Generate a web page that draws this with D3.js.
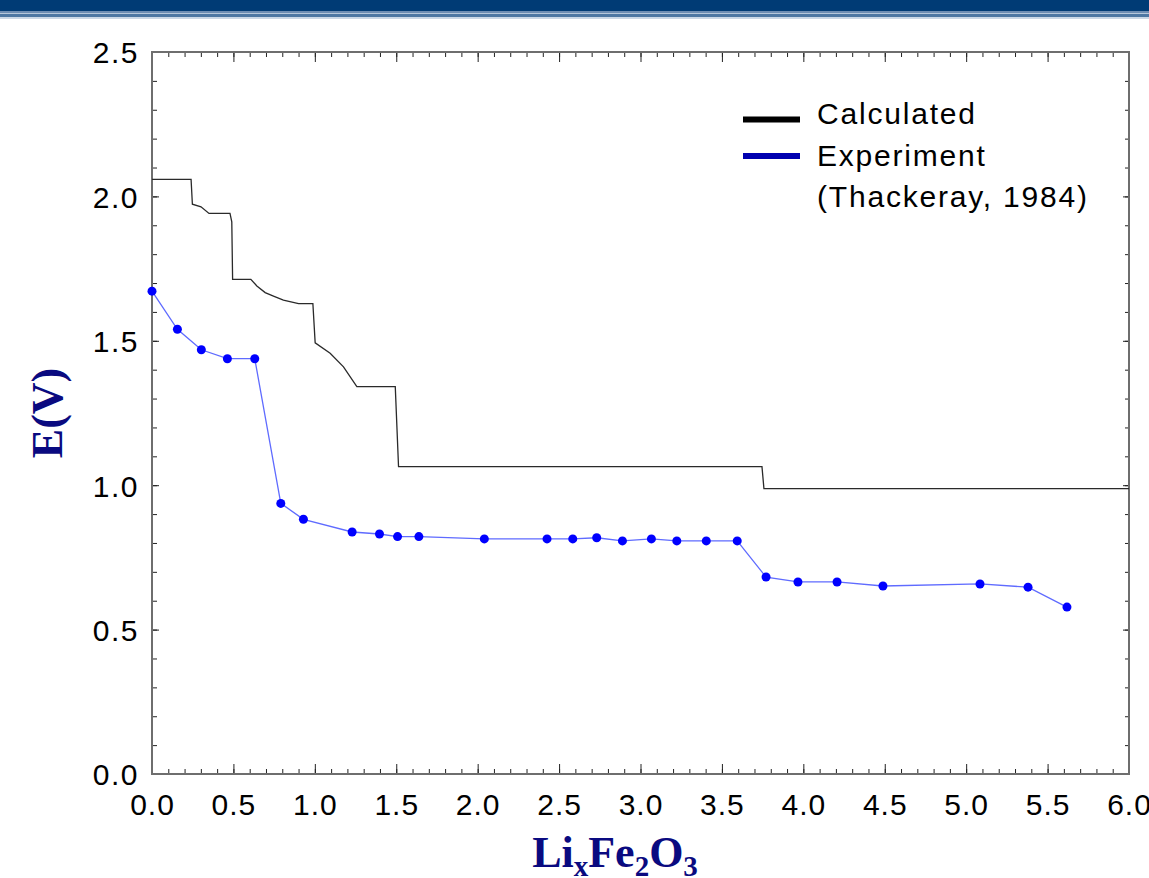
<!DOCTYPE html>
<html>
<head>
<meta charset="utf-8">
<script src="https://cdn.jsdelivr.net/npm/d3@7"></script>
<style>
  body { margin: 0; background: #fff; }
  svg { display: block; }
</style>
</head>
<body>
<div id="chart-area"></div>
<script>
// x = Li content in LixFe2O3, E = voltage
var calcX = [0, 0.24, 0.248, 0.301, 0.35, 0.479, 0.49, 0.495, 0.607, 0.644, 0.695, 0.746, 0.807, 0.9, 0.988, 1.002,
  1.094, 1.176, 1.258, 1.494, 1.514, 3.746, 3.758, 6.0];
var calcE = [2.059, 2.059, 1.973, 1.964, 1.941, 1.941, 1.912, 1.713, 1.713, 1.69, 1.667, 1.655, 1.641, 1.629, 1.629, 1.493,
  1.457, 1.41, 1.341, 1.341, 1.064, 1.064, 0.988, 0.988];

var expX = [0, 0.156, 0.303, 0.463, 0.631, 0.791, 0.93, 1.229, 1.397, 1.508, 1.639, 2.041, 2.426, 2.584, 2.731,
  2.889, 3.067, 3.223, 3.404, 3.594, 3.771, 3.967, 4.207, 4.489, 5.085, 5.38, 5.619];
var expE = [1.672, 1.54, 1.469, 1.438, 1.438, 0.937, 0.882, 0.838, 0.831, 0.822, 0.822, 0.814, 0.814, 0.814, 0.818,
  0.807, 0.814, 0.807, 0.807, 0.807, 0.682, 0.665, 0.665, 0.651, 0.658, 0.647, 0.578];

var xTicks = [0, 0.5, 1, 1.5, 2, 2.5, 3, 3.5, 4, 4.5, 5, 5.5, 6];
var yTicks = [0, 0.5, 1, 1.5, 2, 2.5];
var legendLabels = ["Calculated", "Experiment", "(Thackeray, 1984)"];

var outerWidth = 1149;
var outerHeight = 878;

// plot box in page pixels
var box = { left: 152, right: 1129, top: 52, bottom: 774 };

var svg = d3.select("#chart-area")
  .append("svg")
  .attr("width", outerWidth)
  .attr("height", outerHeight);

// header bar from the slide
svg.append("rect").attr("x", 0).attr("y", 0).attr("width", outerWidth).attr("height", 11).attr("fill", "#003b75");
svg.append("rect").attr("x", 0).attr("y", 11).attr("width", outerWidth).attr("height", 2).attr("fill", "#6d8db3");
svg.append("rect").attr("x", 0).attr("y", 13).attr("width", outerWidth).attr("height", 1).attr("fill", "#b5c7db");
svg.append("rect").attr("x", 0).attr("y", 14).attr("width", outerWidth).attr("height", 3).attr("fill", "#4d77a3");
svg.append("rect").attr("x", 0).attr("y", 17).attr("width", outerWidth).attr("height", 2).attr("fill", "#cbd8e6");

var x = d3.scaleLinear().domain([0, 6]).range([box.left, box.right]);
var y = d3.scaleLinear().domain([0, 2.5]).range([box.bottom, box.top]);

var xMinor = d3.range(0, 61).map(function(i) { return i / 10; });
var yMinor = d3.range(0, 26).map(function(i) { return i / 10; });

var fmt = d3.format(".1f");
var tickFont = "'Liberation Sans', Arial, sans-serif";

// minor ticks (all sides, pointing inward)
svg.append("g").attr("transform", "translate(0," + box.bottom + ")")
  .call(d3.axisBottom(x).tickValues(xMinor).tickSize(-5).tickFormat(""));
svg.append("g").attr("transform", "translate(0," + box.top + ")")
  .call(d3.axisTop(x).tickValues(xMinor).tickSize(-5).tickFormat(""));
svg.append("g").attr("transform", "translate(" + box.left + ",0)")
  .call(d3.axisLeft(y).tickValues(yMinor).tickSize(-5).tickFormat(""));
svg.append("g").attr("transform", "translate(" + box.right + ",0)")
  .call(d3.axisRight(y).tickValues(yMinor).tickSize(-4).tickFormat(""));

// major ticks
var xAxis = svg.append("g").attr("transform", "translate(0," + box.bottom + ")")
  .call(d3.axisBottom(x).tickValues(xTicks).tickSize(-10).tickFormat(fmt));
svg.append("g").attr("transform", "translate(0," + box.top + ")")
  .call(d3.axisTop(x).tickValues(xTicks).tickSize(-10).tickFormat(""));
var yAxis = svg.append("g").attr("transform", "translate(" + box.left + ",0)")
  .call(d3.axisLeft(y).tickValues(yTicks).tickSize(-7).tickFormat(fmt));
svg.append("g").attr("transform", "translate(" + box.right + ",0)")
  .call(d3.axisRight(y).tickValues(yTicks).tickSize(-6).tickFormat(""));

svg.selectAll(".domain").remove();
svg.selectAll(".tick line").attr("stroke", "#222");

xAxis.selectAll("text")
  .attr("y", 41)
  .attr("dy", 0)
  .attr("fill", "#000")
  .style("font-family", tickFont)
  .style("font-size", "30px")
  .style("letter-spacing", "1px");

yAxis.selectAll("text")
  .attr("x", -13)
  .attr("dy", "0.36em")
  .attr("fill", "#000")
  .style("font-family", tickFont)
  .style("font-size", "30px")
  .style("letter-spacing", "1.5px");

// frame
svg.append("rect")
  .attr("x", box.left).attr("y", box.top)
  .attr("width", box.right - box.left).attr("height", box.bottom - box.top)
  .attr("fill", "none")
  .attr("stroke", "#6e6e6e")
  .attr("stroke-width", 2);

var calcData = calcX.map(function(d, i) { return [d, calcE[i]]; });
var expData = expX.map(function(d, i) { return [d, expE[i]]; });

var line = d3.line()
  .x(function(d) { return x(d[0]); })
  .y(function(d) { return y(d[1]); });

// calculated curve
svg.append("path")
  .datum(calcData)
  .attr("d", line)
  .attr("fill", "none")
  .attr("stroke", "#2a2a2a")
  .attr("stroke-width", 1.3);

// experiment
svg.append("path")
  .datum(expData)
  .attr("d", line)
  .attr("fill", "none")
  .attr("stroke", "#5f6bff")
  .attr("stroke-width", 1.3);

svg.selectAll("circle.exp")
  .data(expData)
  .enter()
  .append("circle")
  .attr("class", "exp")
  .attr("cx", function(d) { return x(d[0]); })
  .attr("cy", function(d) { return y(d[1]); })
  .attr("r", 4.5)
  .attr("fill", "#0000ff");

// legend
var legend = svg.append("g");
legend.append("line")
  .attr("x1", 743).attr("x2", 800).attr("y1", 119.5).attr("y2", 119.5)
  .attr("stroke", "#000").attr("stroke-width", 6);
legend.append("line")
  .attr("x1", 743).attr("x2", 800).attr("y1", 156).attr("y2", 156)
  .attr("stroke", "#0000b0").attr("stroke-width", 6);
legend.selectAll("text")
  .data(legendLabels)
  .enter()
  .append("text")
  .attr("x", 817)
  .attr("y", function(d, i) { return [124, 166, 207][i]; })
  .attr("fill", "#000")
  .style("font-family", tickFont)
  .style("font-size", "30px")
  .style("letter-spacing", "1.8px")
  .text(function(d) { return d; });

// axis titles
var titleFont = "'Liberation Serif', 'Times New Roman', serif";

svg.append("text")
  .attr("transform", "translate(62,413) rotate(-90)")
  .attr("text-anchor", "middle")
  .attr("fill", "#0a0a80")
  .style("font-family", titleFont)
  .style("font-weight", "bold")
  .style("font-size", "44px")
  .text("E(V)");

var xt = svg.append("text")
  .attr("x", 615)
  .attr("y", 867)
  .attr("text-anchor", "middle")
  .attr("fill", "#0a0a80")
  .style("font-family", titleFont)
  .style("font-weight", "bold")
  .style("font-size", "44px");
xt.append("tspan").text("Li");
xt.append("tspan").attr("dy", 9).style("font-size", "29px").text("x");
xt.append("tspan").attr("dy", -9).text("Fe");
xt.append("tspan").attr("dy", 9).style("font-size", "29px").text("2");
xt.append("tspan").attr("dy", -9).text("O");
xt.append("tspan").attr("dy", 9).style("font-size", "29px").text("3");
</script>
</body>
</html>
